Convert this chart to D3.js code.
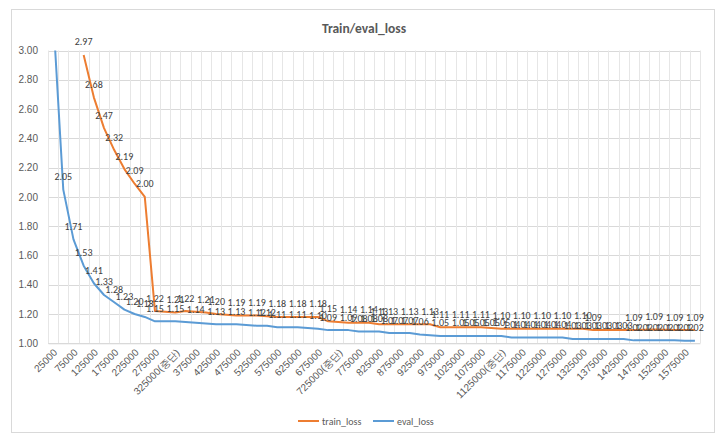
<!DOCTYPE html>
<html><head><meta charset="utf-8">
<script src="https://cdn.jsdelivr.net/npm/d3@7"></script>
<style>
html,body{margin:0;padding:0;background:#fff;}
svg{display:block;font-family:Carlito,"Liberation Sans",Arial,"Noto Sans CJK KR",sans-serif;}
</style></head>
<body><svg id="c" width="728" height="435"></svg>
<script>
const categories = ["25000","50000","75000","100000","125000","150000","175000","200000","225000","250000",
"275000","300000","325000(중단)","350000","375000","400000","425000","450000","475000","500000",
"525000","550000","575000","600000","625000","650000","675000","700000","725000(중단)","750000",
"775000","800000","825000","850000","875000","900000","925000","950000","975000","1000000",
"1025000","1050000","1075000","1100000","1125000(중단)","1150000","1175000","1200000","1225000","1250000",
"1275000","1300000","1325000","1350000","1375000","1400000","1425000","1450000","1475000","1500000",
"1525000","1550000","1575000","1600000"];

// null = no value at that step (line connects across)
const trainLoss = [null,null,null,2.97,2.68,2.47,2.32,2.19,2.09,2.00,
1.22,null,1.21,1.22,null,1.21,1.20,null,1.19,null,
1.19,null,1.18,null,1.18,null,1.18,1.15,null,1.14,
null,1.14,1.13,1.13,null,1.13,null,1.13,1.11,null,
1.11,null,1.11,null,1.10,null,1.10,null,1.10,null,
1.10,null,1.10,1.09,null,null,null,1.09,null,1.094,
null,1.09,null,1.09];

const evalLoss = [3.25,2.05,1.71,1.53,1.41,1.33,1.28,1.23,1.20,1.18,
1.15,null,1.15,null,1.14,null,1.13,null,1.13,null,
1.12,1.12,1.11,null,1.11,null,1.10,1.09,null,1.09,
1.08,1.08,1.08,1.07,1.07,1.07,1.06,null,1.05,null,
1.05,1.05,1.05,1.05,1.05,1.04,1.04,1.04,1.04,1.04,
1.04,1.03,1.03,1.03,1.03,1.03,1.03,1.02,1.02,1.02,
1.02,1.02,1.018,1.017];

const yTicks = [1.0,1.2,1.4,1.6,1.8,2.0,2.2,2.4,2.6,2.8,3.0];
const seriesNames = ["train_loss","eval_loss"];
const seriesColors = ["#ED7D31","#5B9BD5"];
const title = "Train/eval_loss";

const svg = d3.select("#c");
const L = 48, R = 700, T = 50.5, B = 343.3;

svg.append("rect").attr("x",11.5).attr("y",9.5).attr("width",703).attr("height",423)
  .attr("fill","#fff").attr("stroke","#d9d9d9").attr("stroke-width",1);

svg.append("text").attr("x",364).attr("y",33).attr("text-anchor","middle")
  .attr("font-size","13.5px").attr("font-weight","bold").attr("fill","#595959").text(title);

const x = d3.scaleBand().domain(categories).range([L,R]).padding(0);
const y = d3.scaleLinear().domain([1,3]).range([B,T]);
const bw = x.bandwidth();

// gridlines
const g = svg.append("g");
g.selectAll("line.h").data(yTicks).enter().append("line")
  .attr("x1",L).attr("x2",R).attr("y1",d=>Math.round(y(d))+0.5).attr("y2",d=>Math.round(y(d))+0.5)
  .attr("stroke","#d9d9d9").attr("stroke-width",1);
const bounds = categories.map(c=>x(c)).concat([R]);
g.selectAll("line.v").data(bounds).enter().append("line")
  .attr("x1",d=>Math.round(d)+0.5).attr("x2",d=>Math.round(d)+0.5).attr("y1",T).attr("y2",B)
  .attr("stroke","#e6e6e6").attr("stroke-width",1);

// y axis labels
const yAxis = d3.axisLeft(y).tickValues(yTicks).tickFormat(d3.format(".2f")).tickSize(0).tickPadding(10);
const ya = svg.append("g").attr("transform",`translate(${L},0)`).call(yAxis);
ya.select(".domain").remove();
ya.selectAll("text").attr("font-size","10px").attr("fill","#595959").attr("font-family",null);

// x axis
const xAxis = d3.axisBottom(x).tickValues(categories.filter((c,i)=>i%2===0)).tickSize(0).tickPadding(0);
const xa = svg.append("g").attr("transform",`translate(0,${B})`).call(xAxis);
xa.select(".domain").attr("stroke","#d9d9d9");
xa.selectAll("text").attr("font-size","10px").attr("fill","#595959").attr("font-family",null)
  .attr("text-anchor","end").attr("dy",null).attr("y",null)
  .attr("transform","translate(3,8) rotate(-45)").attr("dominant-baseline","middle");

// clip
svg.append("clipPath").attr("id","clip").append("rect").attr("x",L).attr("y",T).attr("width",R-L).attr("height",B-T);

const series = [trainLoss, evalLoss];
const cx = i => x(categories[i]) + bw/2;
const pts = s => s.map((v,i)=>({v,i})).filter(d=>d.v!=null);
const line = d3.line().x(d=>cx(d.i)).y(d=>y(d.v));

series.forEach((s,k)=>{
  svg.append("path").datum(pts(s)).attr("d",line).attr("fill","none")
    .attr("stroke",seriesColors[k]).attr("stroke-width",2).attr("stroke-linejoin","round")
    .attr("clip-path","url(#clip)");
});

const fmt = d3.format(".2f");
series.forEach((s,k)=>{
  svg.append("g").selectAll("text").data(pts(s).filter(d=>d.v<=3))
    .enter().append("text")
    .attr("x",d=>cx(d.i)).attr("y",d=>y(d.v)-9.5).attr("text-anchor","middle")
    .attr("font-size","10px").attr("fill","#404040").text(d=>fmt(d.v));
});

// legend
const leg = [{x:298,name:seriesNames[0],c:seriesColors[0]},{x:373,name:seriesNames[1],c:seriesColors[1]}];
leg.forEach(l=>{
  svg.append("line").attr("x1",l.x).attr("x2",l.x+21).attr("y1",421).attr("y2",421)
    .attr("stroke",l.c).attr("stroke-width",2);
  svg.append("text").attr("x",l.x+24).attr("y",424.5).attr("font-size","10px").attr("fill","#595959").text(l.name);
});
</script></body></html>
